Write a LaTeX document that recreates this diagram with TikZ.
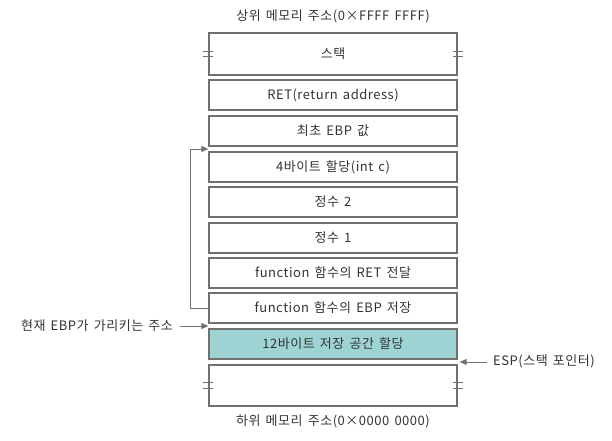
\documentclass[tikz,border=0pt]{standalone}
\usepackage{fontspec}
\setmainfont[WordSpace=1.5, LetterSpace=4]{Noto Sans CJK KR}
\usetikzlibrary{arrows.meta,calc}
\definecolor{linegray}{HTML}{707070}
\definecolor{textgray}{HTML}{333333}
\definecolor{tealfill}{HTML}{9DD3D3}

\begin{document}
\begin{tikzpicture}[x=1pt, y=-1pt,
    cell/.style={draw=linegray, line width=1.3pt, minimum width=248pt, minimum height=30pt,
                 inner sep=0pt, text=textgray, font=\fontsize{13}{15}\selectfont},
    lbl/.style={inner sep=0pt, text=textgray, font=\fontsize{13}{15}\selectfont},
    brk/.style={draw=linegray, line width=1.1pt},
    arr/.style={draw=linegray, line width=0.9pt, -{Triangle[length=7pt,width=6pt]}}]
    \useasboundingbox (0,0) rectangle (612,440);

    % memory cells, top to bottom
    \node[cell, minimum height=42pt] (stack) at (333,54) {스택};
    \node[cell] (ret) at (333,95) {RET(return address)};
    \node[cell] (oldebp) at (333,131) {최초 EBP 값};
    \node[cell] (intc) at (333,167) {4바이트 할당(int c)};
    \node[cell] (int2) at (333,202) {정수 2};
    \node[cell] (int1) at (333,238) {정수 1};
    \node[cell] (fret) at (333,273) {function 함수의 RET 전달};
    \node[cell] (febp) at (333,308) {function 함수의 EBP 저장};
    \node[cell, fill=tealfill] (alloc) at (333,344) {12바이트 저장 공간 할당};
    \node[cell, minimum height=41pt] (bottom) at (333,385.5) {};

    % break marks
    \foreach \n in {stack, bottom}
        \foreach \s in {west, east} {
            \draw[brk] ([shift={(-5,-2.8)}]\n.\s) -- ++(10,0);
            \draw[brk] ([shift={(-5,2.8)}]\n.\s) -- ++(10,0);
        }

    \node[lbl] (toplbl) at (333,16) {상위 메모리 주소(0×FFFF FFFF)};
    \node[lbl] (botlbl) at (333,421) {하위 메모리 주소(0×0000 0000)};

    % EBP
    \coordinate (ebptip) at ($(febp.south west)!.5!(alloc.north west)$);
    \node[lbl, anchor=east] (ebplbl) at (173,326) {현재 EBP가 가리키는 주소};
    \draw[arr, shorten <=7pt] (ebplbl.east |- ebptip) -- (ebptip);

    \coordinate (looptip) at ($(oldebp.south west)!.5!(intc.north west)$);
    \draw[arr] (febp.west) -- ++(-18,0) |- (looptip);

    % ESP
    \coordinate (esptip) at ($(alloc.south east)!.5!(bottom.north east)+(2,0)$);
    \node[lbl, anchor=west] (esplbl) at (493,361) {ESP(스택 포인터)};
    \draw[arr, shorten <=6pt] (esplbl.west |- esptip) -- (esptip);
\end{tikzpicture}
\end{document}
